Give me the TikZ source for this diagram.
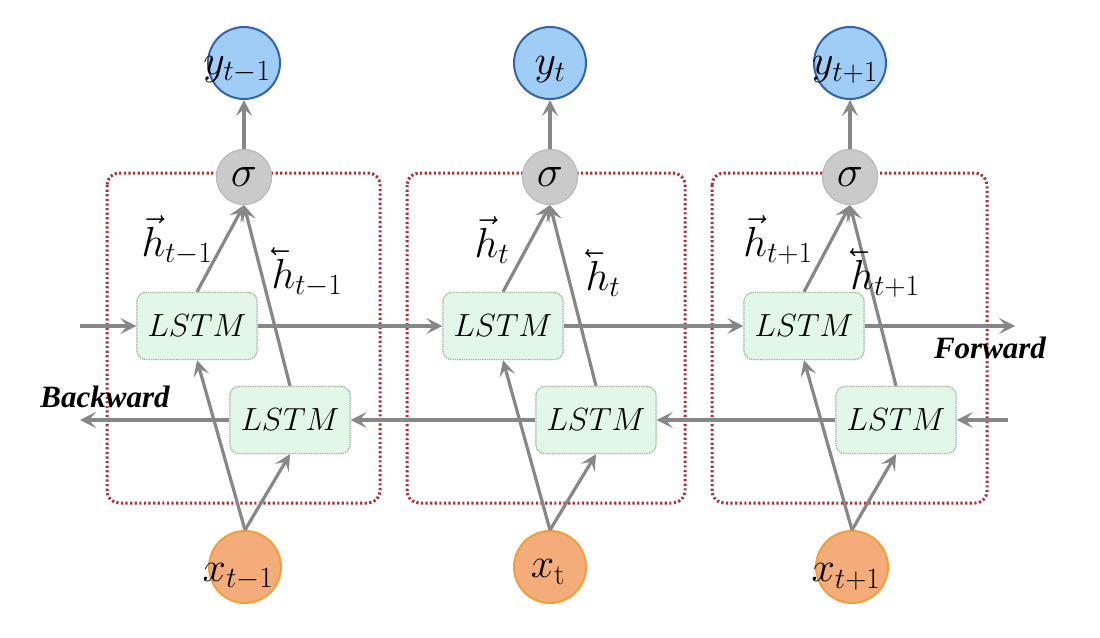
\RequirePackage{fix-cm}
\documentclass[tikz,border=0pt]{standalone}
\usepackage{fontspec}
\usetikzlibrary{arrows.meta,calc}
\newfontfamily\labfont{Liberation Serif}

\definecolor{yfill}{RGB}{160,205,245}
\definecolor{ydraw}{RGB}{50,100,170}
\definecolor{xfill}{RGB}{244,172,122}
\definecolor{xdraw}{RGB}{238,160,60}
\definecolor{sfill}{RGB}{202,202,202}
\definecolor{sdraw}{RGB}{185,185,185}
\definecolor{lfill}{RGB}{226,247,231}
\definecolor{ldraw}{RGB}{165,190,170}
\definecolor{frame}{RGB}{165,50,55}
\definecolor{arrowgray}{RGB}{135,135,135}

% left-pointing counterpart of \vec
\newcommand{\bvec}[1]{\reflectbox{$\vec{\reflectbox{$#1$}}$}}

\tikzset{
  ycirc/.style={circle, fill=yfill, draw=ydraw, line width=2pt, minimum size=72pt, inner sep=0pt},
  xcirc/.style={circle, fill=xfill, draw=xdraw, line width=2pt, minimum size=72pt, inner sep=0pt},
  scirc/.style={circle, fill=sfill, draw=sdraw, line width=1pt, minimum size=55pt, inner sep=0pt,
                font=\fontsize{44}{50}\selectfont},
  lstm/.style={rectangle, rounded corners=9pt, fill=lfill, draw=ldraw, densely dotted, line width=1.3pt,
               minimum width=120pt, minimum height=67pt, inner sep=0pt,
               font=\fontsize{32}{38}\selectfont},
  cell/.style={draw=frame, line width=3pt, dash pattern=on 2.2pt off 2.4pt, rounded corners=12pt},
  arr/.style={draw=arrowgray, line width=3.2pt,
              -{Stealth[length=16pt, width=16pt, inset=7pt]}},
  biglab/.style={inner sep=0pt, font=\fontsize{42}{50}\selectfont},
  hlab/.style={inner sep=0pt, font=\fontsize{42}{48}\selectfont},
  dirlab/.style={inner sep=0pt, font=\labfont\bfseries\itshape\fontsize{31}{36}\selectfont}
}

\begin{document}
\begin{tikzpicture}[x=1pt, y=-1pt]
\useasboundingbox (0,0) rectangle (1100,637);

% dotted frames around the three time steps
\draw[cell] (107,173) rectangle (380,503);
\draw[cell] (407,173) rectangle (685,503);
\draw[cell] (712,173) rectangle (987,503);

% outputs
\node[ycirc] (y1) at (244,63) {};
\node[ycirc] (y2) at (550,63) {};
\node[ycirc] (y3) at (850,63) {};

% sigma units
\node[scirc] (s1) at (244,177) {$\sigma$};
\node[scirc] (s2) at (550,177) {$\sigma$};
\node[scirc] (s3) at (850,177) {$\sigma$};

% forward and backward LSTM cells
\node[lstm] (f1) at (197,326) {$LSTM$};
\node[lstm] (f2) at (503,326) {$LSTM$};
\node[lstm] (f3) at (804,326) {$LSTM$};
\node[lstm] (b1) at (290,420) {$LSTM$};
\node[lstm] (b2) at (596,420) {$LSTM$};
\node[lstm] (b3) at (896,420) {$LSTM$};

% inputs
\node[xcirc] (x1) at (245,567) {};
\node[xcirc] (x2) at (550,567) {};
\node[xcirc] (x3) at (852,567) {};

% free ends of the recurrent chains
\coordinate (fin)  at (80,326);
\coordinate (fout) at (1015,326);
\coordinate (bin)  at (1008,420);
\coordinate (bout) at (80,420);

% connectors
\foreach \i in {1,2,3}{
  \draw[arr] (s\i) -- (y\i);
  \draw[arr] (f\i.north) -- (s\i.south);
  \draw[arr] (b\i.north) -- (s\i.south);
  \draw[arr] (x\i.north) -- (f\i.south);
  \draw[arr] (x\i.north) -- (b\i.south);
}
\draw[arr] (fin) -- (f1.west);
\draw[arr] (f1.east) -- (f2.west);
\draw[arr] (f2.east) -- (f3.west);
\draw[arr] (f3.east) -- (fout);
\draw[arr] (bin) -- (b3.east);
\draw[arr] (b3.west) -- (b2.east);
\draw[arr] (b2.west) -- (b1.east);
\draw[arr] (b1.west) -- (bout);

% redraw cells above the lines that pass near them
\foreach \p in {{197,326},{503,326},{804,326},{290,420},{596,420},{896,420}}{
  \node[lstm] at (\p) {$LSTM$};
}
\foreach \p in {{244,177},{550,177},{850,177}}{
  \node[scirc] at (\p) {$\sigma$};
}

% node labels
\node[biglab] (ly1) at ($(y1)+(-7,7)$) {$y_{t-1}$};
\node[biglab] (ly2) at ($(y2)+(0,7)$) {$y_{t}$};
\node[biglab] (ly3) at ($(y3)+(-5,7)$) {$y_{t+1}$};
\node[biglab] (lx1) at ($(x1)+(-7,10)$) {$x_{t-1}$};
\node[biglab] (lx2) at ($(x2)+(-2,5)$) {$x_{\mathrm{t}}$};
\node[biglab] (lx3) at ($(x3)+(-6,10)$) {$x_{t+1}$};

% hidden-state labels
\node[hlab] (hf1) at (177,240) {$\vec{h}_{t-1}$};
\node[hlab] (hb1) at (307,272) {$\bvec{h}_{t-1}$};
\node[hlab] (hf2) at (492,240) {$\vec{h}_{t}$};
\node[hlab] (hb2) at (603,273) {$\bvec{h}_{t}$};
\node[hlab] (hf3) at (778,240) {$\vec{h}_{t+1}$};
\node[hlab] (hb3) at (885,273) {$\bvec{h}_{t+1}$};

% direction labels
\node[dirlab] (bw) at (105,397) {Backward};
\node[dirlab] (fw) at (990,348) {Forward};
\end{tikzpicture}
\end{document}
